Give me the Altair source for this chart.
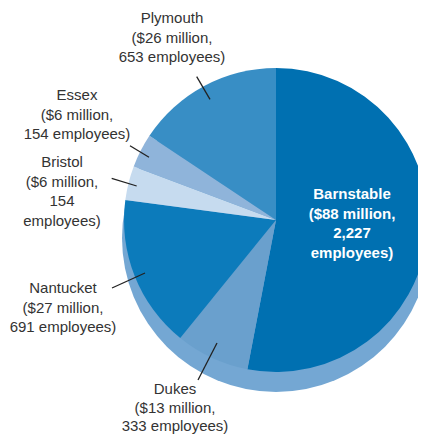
import altair as alt
import pandas as pd

# ---- data ----
counties = ["Barnstable", "Dukes", "Nantucket", "Bristol", "Essex", "Plymouth"]
millions = [88, 13, 27, 6, 6, 26]
employees = ["2,227", "333", "691", "154", "154", "653"]
slice_colors = ["#0070b1", "#6aa0cd", "#0c7bbb", "#c6dbef", "#8fb4da", "#388ec5"]
shadow_color = "#74a7d3"

df = pd.DataFrame({"county": counties, "millions": millions, "order": list(range(len(counties)))})

FONT = "Liberation Sans"
FS = 15
LH = 19.6

# pie geometry (chart coordinates)
CX, CY, R = 268, 212, 152

shadow = alt.Chart(df).mark_arc(radius=154, color=shadow_color).encode(
    theta=alt.Theta("sum(millions):Q"),
    x=alt.value(CX),
    y=alt.value(CY + 18),
)

pie = alt.Chart(df).mark_arc(radius=R).encode(
    theta=alt.Theta("millions:Q", stack=True),
    order=alt.Order("order:Q"),
    color=alt.Color("county:N", scale=alt.Scale(domain=counties, range=slice_colors), legend=None),
    x=alt.value(CX),
    y=alt.value(CY),
)

# label texts (built from data)
def lines(i, split_emp=False):
    c, m, e = counties[i], millions[i], employees[i]
    if split_emp:
        return [c, f"(${m} million,", e, "employees)"]
    return [c, f"(${m} million,", f"{e} employees)"]

label_specs = [
    # index, split, x, y(first line), line height, color, weight
    (5, False, 164, 10, LH, "#333333", "normal"),
    (4, False, 69, 87, LH, "#333333", "normal"),
    (3, True, 54, 154, LH, "#333333", "normal"),
    (2, False, 55, 280, LH, "#333333", "normal"),
    (1, False, 167, 381, 18.6, "#333333", "normal"),
    (0, True, 344, 186, LH, "#ffffff", "bold"),
]

layers = [shadow, pie]
for idx, split, lx, ly, lh, col, wt in label_specs:
    layers.append(
        alt.Chart(df).mark_text(
            text=lines(idx, split), font=FONT, fontSize=FS, lineHeight=lh,
            align="center", baseline="middle", color=col, fontWeight=wt,
        ).encode(x=alt.value(lx), y=alt.value(ly))
        .transform_filter(alt.datum.county == counties[idx])
    )

leaders = [
    (188.7, 68.7, 202, 91.3),
    (122, 137.7, 141, 149.3),
    (103.7, 170.3, 128.7, 178),
    (104, 280, 137, 265),
    (190, 372, 209, 335),
]
for x1, y1, x2, y2 in leaders:
    layers.append(
        alt.Chart(df).mark_rule(color="#222222", strokeWidth=1.3).encode(
            x=alt.value(x1), y=alt.value(y1), x2=alt.value(x2), y2=alt.value(y2)
        ).transform_filter(alt.datum.order == 0)
    )

chart = alt.layer(*layers).properties(
    width=410, height=429, padding=0,
    autosize=alt.AutoSizeParams(type="none"),
).configure_view(stroke=None)

chart.save("out.html", embed_options={"renderer": "svg", "actions": False})
